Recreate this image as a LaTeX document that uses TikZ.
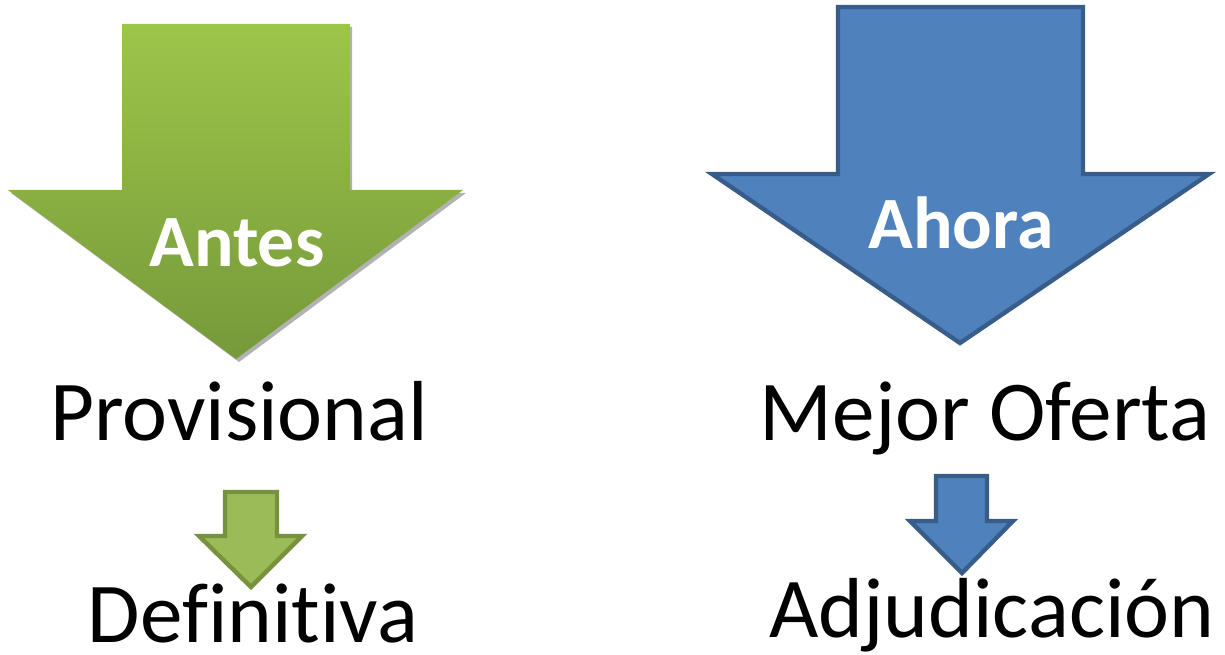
\documentclass[tikz,border=0pt]{standalone}
\usepackage{fontspec}
\setmainfont[Ligatures=NoCommon]{Carlito}
\usepackage{tikz}

\definecolor{greenTop}{HTML}{9DC54A}
\definecolor{greenBot}{HTML}{76993A}
\definecolor{greenFill}{HTML}{9BBB59}
\definecolor{greenLine}{HTML}{76923C}
\definecolor{blueFill}{HTML}{4F81BD}
\definecolor{blueLine}{HTML}{385D8A}

\tikzset{
  word/.style={anchor=base, inner sep=0pt, font=\fontsize{48.5}{48.5}\selectfont},
  tag/.style={anchor=base, inner sep=0pt, text=white, font=\fontsize{42}{42}\selectfont\bfseries},
  greenarrow/.style={draw=greenLine, fill=greenFill, line width=2.5pt, line join=miter},
  bluearrow/.style={draw=blueLine, fill=blueFill, line width=2.5pt, line join=miter}
}

\begin{document}
\begin{tikzpicture}[x=0.02cm, y=-0.02cm]
        \useasboundingbox (0,0) rectangle (1225,655);

        % ARROWS
        % -----------------

        % Antes arrow (shadow + shaded body)
        \fill[black!30] (124,27) -- (352,27) -- (352,193) -- (466,193) -- (239,362) -- (11,193) -- (124,193) -- cycle;
        \shade[top color=greenTop, bottom color=greenBot] (122,24) -- (350,24) -- (350,190) -- (463,190) -- (236,359) -- (8,190) -- (122,190) -- cycle;

        % Ahora arrow
        \path[bluearrow] (838,7) -- (1083,7) -- (1083,174) -- (1209,174) -- (960,343) -- (712,174) -- (838,174) -- cycle;

        % small arrows
        \path[greenarrow] (225,492) -- (277,492) -- (277,536) -- (302,536) -- (251,587) -- (199,536) -- (225,536) -- cycle;
        \path[bluearrow] (936,476) -- (987,476) -- (987,521) -- (1013,521) -- (962,573) -- (910,521) -- (936,521) -- cycle;

        % TEXTS
        % -----------------
        \node[tag] (antes) at (237,267) {Antes};
        \node[tag] (ahora) at (961,249) {Ahora};

        \node[word] (provisional) at (239,440) {Provisional};
        \node[word] (mejor) at (985,440) {Mejor Oferta};
        \node[word] (definitiva) at (253,642) {Definitiva};
        \node[word] (adjudicacion) at (992,637) {Adjudicación};

\end{tikzpicture}
\end{document}
